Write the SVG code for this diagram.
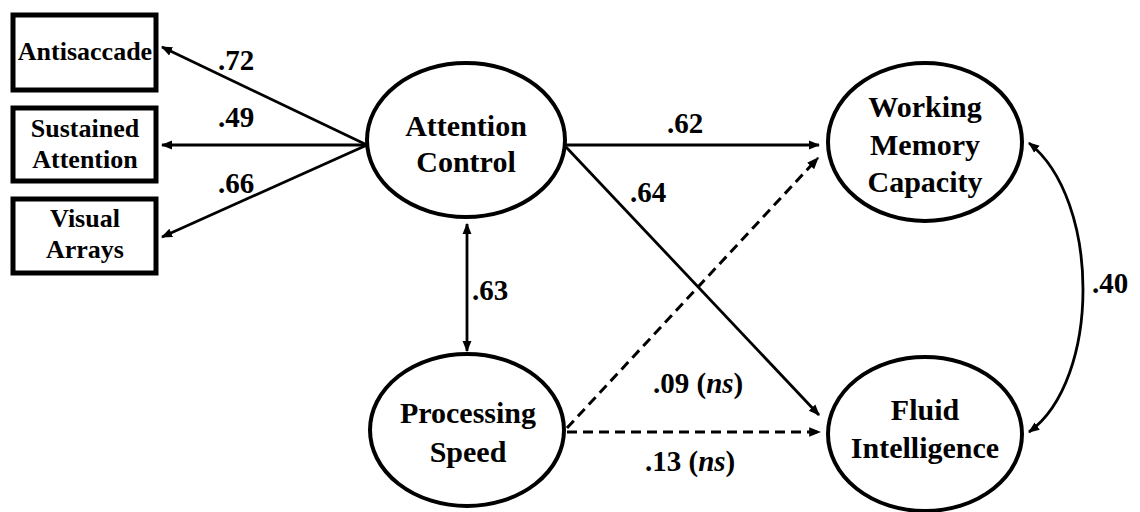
<svg xmlns="http://www.w3.org/2000/svg" width="1140" height="512" viewBox="0 0 1140 512" font-family="'Liberation Serif', 'DejaVu Serif', serif">
<style>
text{font-family:"Liberation Serif","DejaVu Serif",serif;font-weight:bold;fill:#000;text-anchor:middle}
.box{fill:#fff;stroke:#000;stroke-width:5}
.ell{fill:#fff;stroke:#000;stroke-width:4}
.bl{font-size:26px}
.el{font-size:30px}
.num{font-size:29px;text-anchor:start}
.ln{fill:none;stroke:#000;stroke-width:2.8}
.dash{stroke-dasharray:10 6;stroke-width:3}
</style>
<defs>
<marker id="ah" viewBox="0 0 10 10" refX="9" refY="5" markerWidth="4" markerHeight="4" orient="auto-start-reverse" markerUnits="strokeWidth">
<path d="M0,1 L10,5 L0,9 Z" fill="#000"/>
</marker>
</defs>
<rect width="1140" height="512" fill="#fff"/>
<g id="connectors">
<line class="ln" x1="367" y1="145" x2="162" y2="47" marker-end="url(#ah)"/>
<line class="ln" x1="367" y1="145" x2="162" y2="145" marker-end="url(#ah)"/>
<line class="ln" x1="367" y1="145" x2="162" y2="237" marker-end="url(#ah)"/>
<line class="ln" x1="566" y1="145" x2="819" y2="145" marker-end="url(#ah)"/>
<line class="ln" x1="566" y1="147" x2="819" y2="415" marker-end="url(#ah)"/>
<line class="ln dash" x1="567" y1="428" x2="818" y2="158" marker-end="url(#ah)"/>
<line class="ln dash" x1="567" y1="432" x2="820" y2="432" marker-end="url(#ah)"/>
<line class="ln" x1="467" y1="224" x2="467" y2="351" marker-start="url(#ah)" marker-end="url(#ah)"/>
<path class="ln" d="M1029,143 C1101,200 1101,380 1029,432" marker-start="url(#ah)" marker-end="url(#ah)"/>
<text class="num" x="218" y="70">.72</text>
<text class="num" x="218" y="127">.49</text>
<text class="num" x="218" y="193">.66</text>
<text class="num" x="667" y="133">.62</text>
<text class="num" x="630" y="202">.64</text>
<text class="num" x="472" y="300">.63</text>
<text class="num" x="653" y="393">.09 (<tspan font-style="italic">ns</tspan>)</text>
<text class="num" x="645" y="471">.13 (<tspan font-style="italic">ns</tspan>)</text>
<text class="num" x="1092" y="293">.40</text>
</g>
<g id="antisaccade">
<rect class="box" x="13" y="15" width="143" height="75"/>
<text class="bl" x="85" y="60">Antisaccade</text>
</g>
<g id="sustained">
<rect class="box" x="13" y="108" width="143" height="73"/>
<text class="bl" x="85" y="137">Sustained</text>
<text class="bl" x="85" y="168">Attention</text>
</g>
<g id="visual">
<rect class="box" x="13" y="199" width="143" height="74"/>
<text class="bl" x="85" y="227">Visual</text>
<text class="bl" x="85" y="258">Arrays</text>
</g>
<g id="attention-control">
<ellipse class="ell" cx="466" cy="140" rx="99" ry="77"/>
<text class="el" x="466" y="136">Attention</text>
<text class="el" x="466" y="172">Control</text>
</g>
<g id="working-memory">
<ellipse class="ell" cx="925" cy="142" rx="97" ry="79"/>
<text class="el" x="925" y="117">Working</text>
<text class="el" x="925" y="155">Memory</text>
<text class="el" x="925" y="192">Capacity</text>
</g>
<g id="processing-speed">
<ellipse class="ell" cx="467" cy="430" rx="97" ry="76"/>
<text class="el" x="468" y="423">Processing</text>
<text class="el" x="468" y="462">Speed</text>
</g>
<g id="fluid-intelligence">
<ellipse class="ell" cx="925" cy="434" rx="97" ry="77"/>
<text class="el" x="925" y="420">Fluid</text>
<text class="el" x="925" y="458">Intelligence</text>
</g>
</svg>
